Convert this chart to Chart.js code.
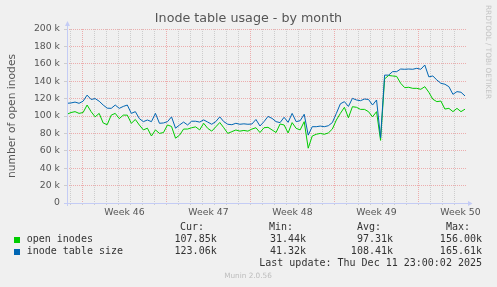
<!DOCTYPE html>
<html><head><meta charset="utf-8">
<script src="https://cdn.jsdelivr.net/npm/chart.js@4"></script>
<style>html,body{margin:0;padding:0;background:#f0f0f0}canvas{display:block}</style>
</head><body>
<canvas id="c" width="497" height="287"></canvas>
<script>
// values in thousands (k), one sample every ~8 hours, oldest first
const openInodesK = [
  102,104,105,103,104,112.6,105,99,103,92,90,101,103,97,101,101,91.6,96,89.6,84,86,77,84,80,81,
  89.7,88,74.5,78,85,85,86.5,87.5,84,91.6,85.8,82.6,87.5,92.5,86.5,80,82,83.9,82.6,83.4,82.6,85,86.5,81,86.5,
  87,84,81,90.8,89.7,80.5,92.4,85.8,84,93.5,63,77,79,80,79,80.5,85,95.4,103,110,98,110.7,110,107.6,107.6,
  105,99,105,72,142.6,146.6,146,145.5,137.6,132.6,133,131.8,131.8,130.7,133.7,127.3,119.3,116.5,117.2,108,108.8,105,108.8,105,107.85
];
const inodeTableSizeK = [
  114.6,115,116,114.6,117,124,119,120,117,112.6,109,108.8,112.6,108.8,111,112.6,103,105,97,93.5,95.4,93.5,103,91.6,92,
  93.5,99,86,89.7,93,89.7,94,94,93,95.5,93,90.5,93.5,99,93.5,90.5,90,91.6,90.5,91,90.5,90.8,96,88.5,93.5,
  99.5,97.3,93.5,92.4,98.5,92.7,103,93.5,94.6,102,78,87.7,87.7,88.4,87.7,88.8,92.4,103,114,116.5,111,120.3,118.4,117.6,119.5,
  119,112.6,118.4,75,147,147,151,151,154,153.7,154,153.7,154.8,153.7,158.6,145,146,141.4,137.6,136.5,133.7,124.9,128,127.3,123.06
];
const seriesNames = ['open inodes', 'inode table size'];
const seriesColors = ['#00cc00', '#0066b3'];
const weekLabels = ['Week 46', 'Week 47', 'Week 48', 'Week 49', 'Week 50'];
const statHeaders = ['Cur:', 'Min:', 'Avg:', 'Max:'];
const openStats = ['107.85k', '31.44k', '97.31k', '156.00k'];
const tableStats = ['123.06k', '41.32k', '108.41k', '165.61k'];
const lastUpdate = 'Last update: Thu Dec 11 23:00:02 2025';
const titleText = 'Inode table usage - by month';
const yTitle = 'number of open inodes';
const watermark = 'RRDTOOL / TOBI OETIKER';
const footer = 'Munin 2.0.56';

// time axis in hours from the left edge of the plot
const SPAN_H = 798, LAST_H = 796, FIRST_DAY_H = 7, FIRST_WEEK_H = 31, WEEK_H = 168, FIRST_LABEL_H = 115;
const STEP_H = LAST_H / (openInodesK.length - 1);
const toPts = arr => arr.map((v, i) => ({x: i * STEP_H, y: v}));

const MAJOR = 'rgba(230,90,90,0.45)';
const MINOR = 'rgba(140,140,140,0.35)';
const AXIS = 'rgb(196,204,245)';
const FONT = 'DejaVu Sans';

const decor = {
  id: 'decor',
  beforeDraw(chart) {
    const ctx = chart.ctx; ctx.save(); ctx.fillStyle = '#f0f0f0';
    ctx.fillRect(0, 0, chart.width, chart.height); ctx.restore();
  },
  afterDatasetsDraw(chart) {
    const ctx = chart.ctx, a = chart.chartArea;
    ctx.save();
    ctx.strokeStyle = AXIS; ctx.lineWidth = 1;
    ctx.beginPath();
    ctx.moveTo(a.left - 3, a.bottom + 0.5); ctx.lineTo(a.right + 2, a.bottom + 0.5);
    ctx.moveTo(a.left + 0.5, a.bottom + 3); ctx.lineTo(a.left + 0.5, a.top - 3);
    ctx.stroke();
    ctx.fillStyle = AXIS;
    ctx.beginPath(); ctx.moveTo(a.right + 2, a.bottom - 2); ctx.lineTo(a.right + 6.5, a.bottom + 0.5); ctx.lineTo(a.right + 2, a.bottom + 3); ctx.closePath(); ctx.fill();
    ctx.beginPath(); ctx.moveTo(a.left - 2, a.top - 3); ctx.lineTo(a.left + 0.5, a.top - 8); ctx.lineTo(a.left + 3, a.top - 3); ctx.closePath(); ctx.fill();
    ctx.restore();
  },
  afterDraw(chart) {
    const ctx = chart.ctx;
    ctx.save();
    // watermark
    ctx.fillStyle = '#c4c4c4';
    ctx.font = '7.3px "' + FONT + '"';
    ctx.textBaseline = 'middle'; ctx.textAlign = 'left';
    ctx.translate(487.5, 5); ctx.rotate(Math.PI / 2);
    ctx.fillText(watermark, 0, 0);
    ctx.setTransform(1, 0, 0, 1, 0, 0);
    // legend table
    ctx.font = '10px "DejaVu Sans Mono"';
    ctx.fillStyle = '#333';
    ctx.textBaseline = 'middle';
    ctx.textAlign = 'right';
    const hx = [204, 293, 381, 470], vx = [216.7, 306, 393, 482];
    statHeaders.forEach((h, i) => ctx.fillText(h, hx[i], 227.5));
    openStats.forEach((s, i) => ctx.fillText(s, vx[i], 239.7));
    tableStats.forEach((s, i) => ctx.fillText(s, vx[i], 251.7));
    ctx.fillText(lastUpdate, 482, 263.5);
    ctx.textAlign = 'left';
    ctx.fillText(seriesNames[0], 26.7, 239.7);
    ctx.fillText(seriesNames[1], 26.7, 251.7);
    ctx.fillStyle = seriesColors[0]; ctx.fillRect(14, 237, 6, 6);
    ctx.fillStyle = seriesColors[1]; ctx.fillRect(14, 249, 6, 6);
    // footer
    ctx.fillStyle = '#bdbdbd';
    ctx.font = '7.3px "' + FONT + '"';
    ctx.textAlign = 'center';
    ctx.fillText(footer, 248, 276.5);
    ctx.restore();
  }
};

new Chart(document.getElementById('c'), {
  type: 'line',
  data: {
    datasets: [
      {label: seriesNames[0], data: toPts(openInodesK), borderColor: seriesColors[0], borderWidth: 1, pointRadius: 0, tension: 0, fill: false, order: 1},
      {label: seriesNames[1], data: toPts(inodeTableSizeK), borderColor: seriesColors[1], borderWidth: 1, pointRadius: 0, tension: 0, fill: false, order: 0}
    ]
  },
  options: {
    responsive: false,
    animation: false,
    devicePixelRatio: 1,
    layout: {padding: {top: 0, right: 0, bottom: 64, left: 0}},
    plugins: {
      legend: {display: false},
      tooltip: {enabled: false},
      title: {display: true, text: titleText, color: '#555', font: {family: FONT, size: 12.7, weight: 'normal'}, padding: {top: 11.4, bottom: 2.36}}
    },
    scales: {
      x: {
        type: 'linear', min: 0, max: SPAN_H,
        afterBuildTicks: s => { const t = []; for (let h = FIRST_DAY_H; h <= SPAN_H; h += 12) t.push({value: h}); s.ticks = t; },
        afterFit: s => { s.height = 20; },
        ticks: {
          autoSkip: false, maxRotation: 0, minRotation: 0, padding: 2, color: '#555',
          font: {family: FONT, size: 9.3},
          callback: v => { const k = (v - FIRST_LABEL_H) / WEEK_H; return (Number.isInteger(k) && weekLabels[k]) ? weekLabels[k] : ''; }
        },
        grid: {
          lineWidth: 1, drawTicks: true, tickLength: 2,
          color: c => { const v = c.tick ? c.tick.value : 0; if ((v - FIRST_DAY_H) % 24 !== 0) return 'rgba(0,0,0,0)'; return (v - FIRST_WEEK_H) % WEEK_H === 0 ? MAJOR : MINOR; },
          tickColor: c => { const v = c.tick ? c.tick.value : 0; return (v - FIRST_DAY_H) % 24 !== 0 ? 'rgba(0,0,0,0)' : MINOR; }
        },
        border: {display: false, dash: [1, 1]}
      },
      y: {
        type: 'linear', min: 0, max: 200,
        afterFit: s => { s.width = 67; },
        ticks: {
          stepSize: 10, padding: 4, color: '#555', font: {family: FONT, size: 9.3},
          callback: v => v % 20 === 0 ? (v === 0 ? '0' : v + ' k') : ''
        },
        grid: {
          lineWidth: 1, drawTicks: true, tickLength: 3,
          color: c => { const v = c.tick ? c.tick.value : 0; if (v === 0) return 'rgba(0,0,0,0)'; return v % 20 === 0 ? MAJOR : MINOR; },
          tickColor: MINOR
        },
        border: {display: false, dash: [1, 1]},
        title: {display: true, text: yTitle, color: '#555', font: {family: FONT, size: 10.7}, padding: {top: 6, bottom: 0}}
      },
      yr: {
        position: 'right', display: true,
        afterFit: s => { s.width = 31; },
        ticks: {display: false}, grid: {display: false}, border: {display: false}
      }
    }
  },
  plugins: [decor]
});
</script>
</body></html>
